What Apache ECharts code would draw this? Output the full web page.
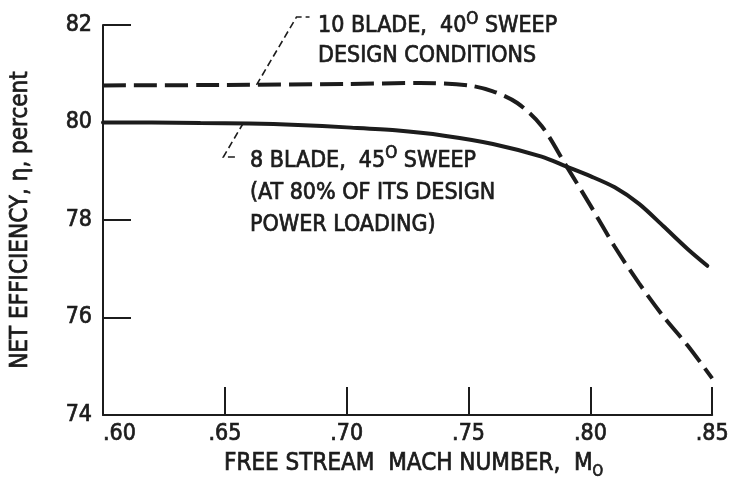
<!DOCTYPE html>
<html><head><meta charset="utf-8">
<script src="https://cdn.jsdelivr.net/npm/echarts@6/dist/echarts.min.js"></script>
<style>html,body{margin:0;padding:0;background:#fff}#c{width:732px;height:485px}</style>
</head><body><div id="c"></div>
<script>
// ---- data ----
const machTicks = [0.60, 0.65, 0.70, 0.75, 0.80, 0.85];
const machTickLabels = ['.60', '.65', '.70', '.75', '.80', '.85'];
const effTicks = [74, 76, 78, 80, 82];
const effTickLabels = ['74', '76', '78', '80', '82'];

const bladeTenMach = [0.60, 0.65, 0.70, 0.73, 0.75, 0.76, 0.77, 0.78, 0.79, 0.80, 0.81, 0.82, 0.83, 0.84, 0.85];
const bladeTenEff  = [80.76, 80.77, 80.79, 80.81, 80.76, 80.64, 80.40, 79.93, 79.12, 78.30, 77.45, 76.70, 76.02, 75.42, 74.75];

const bladeEightMach = [0.60, 0.62, 0.64, 0.66, 0.68, 0.70, 0.72, 0.74, 0.76, 0.78, 0.79, 0.80, 0.81, 0.82, 0.83, 0.84, 0.848];
const bladeEightEff  = [80.00, 80.00, 79.99, 79.98, 79.95, 79.90, 79.84, 79.73, 79.56, 79.30, 79.10, 78.90, 78.67, 78.33, 77.87, 77.40, 77.06];

const xTitle = 'FREE STREAM  MACH NUMBER,  M{sub|O}';
const yTitle = 'NET EFFICIENCY, \u03B7, percent';
const noteTen = '10 BLADE,  40{sup|O} SWEEP\nDESIGN CONDITIONS';
const noteEight = '8 BLADE,  45{sup|O} SWEEP\n(AT 80% OF ITS DESIGN\nPOWER LOADING)';

// ---- font pick ----
function hasFont(n) {
  const c = document.createElement('canvas').getContext('2d');
  const s = 'WBLADE mmm 0123 iiil';
  c.font = '40px monospace'; const a = c.measureText(s).width;
  c.font = '40px "' + n + '", monospace'; const b = c.measureText(s).width;
  return Math.abs(a - b) > 0.5;
}
let F, S;
if (hasFont('Liberation Sans Narrow')) { F = '"Liberation Sans Narrow"'; S = {ann: 25, tick: 25, title: 26, yt: 26}; }
else if (hasFont('DejaVu Sans Condensed')) { F = '"DejaVu Sans Condensed"'; S = {ann: 23, tick: 23, title: 24, yt: 24}; }
else { F = 'Roboto'; S = {ann: 22, tick: 22, title: 23, yt: 23}; }

const INK = '#1c1c1c';
const BW = 0.7; // slight stroke to mimic the heavy scanned type
const chart = echarts.init(document.getElementById('c'), null, {renderer: 'canvas'});

function lbl(arr, labels, v) {
  const i = arr.findIndex(t => Math.abs(t - v) < 1e-6);
  return i >= 0 ? labels[i] : '';
}

chart.setOption({
  animation: false,
  backgroundColor: '#fff',
  grid: {left: 103, right: 17, top: 25, bottom: 70},
  xAxis: {
    type: 'value', min: 0.6, max: 0.85, interval: 0.05,
    axisLine: {show: true, lineStyle: {color: INK, width: 2}},
    axisTick: {show: true, inside: true, length: 28, lineStyle: {color: INK, width: 2}},
    splitLine: {show: false},
    axisLabel: {formatter: v => lbl(machTicks, machTickLabels, v), color: INK, fontFamily: F, fontSize: S.tick, margin: 8,
      textBorderColor: INK, textBorderWidth: BW, showMinLabel: true, showMaxLabel: true, alignMinLabel: 'left'},
    name: xTitle, nameLocation: 'middle', nameGap: 35,
    nameTextStyle: {color: INK, fontFamily: F, fontSize: S.title, lineHeight: 26, textBorderColor: INK, textBorderWidth: BW,
      padding: [0, 0, 0, 12],
      rich: {sub: {color: INK, fontFamily: F, fontSize: 15, lineHeight: 15, padding: [13, 0, 0, 0], verticalAlign: 'top',
        textBorderColor: INK, textBorderWidth: BW}}}
  },
  yAxis: {
    type: 'value', min: 74, max: 82, interval: 2,
    axisLine: {show: true, lineStyle: {color: INK, width: 2}},
    axisTick: {show: true, inside: true, length: 28, lineStyle: {color: INK, width: 2}},
    splitLine: {show: false},
    axisLabel: {formatter: v => lbl(effTicks, effTickLabels, v), color: INK, fontFamily: F, fontSize: S.tick, margin: 11,
      textBorderColor: INK, textBorderWidth: BW, showMinLabel: true, showMaxLabel: true},
    name: yTitle, nameLocation: 'middle', nameRotate: 90, nameGap: 70,
    nameTextStyle: {color: INK, fontFamily: F, fontSize: S.yt, textBorderColor: INK, textBorderWidth: BW, padding: [0, 0, 0, 0]}
  },
  series: [
    {
      type: 'line', name: '10 blade', showSymbol: false, smooth: 0.3,
      data: bladeTenMach.map((m, i) => [m, bladeTenEff[i]]),
      lineStyle: {color: INK, width: 4, type: [23, 8], cap: 'butt'}
    },
    {
      type: 'line', name: '8 blade', showSymbol: false, smooth: 0.3,
      data: bladeEightMach.map((m, i) => [m, bladeEightEff[i]]),
      lineStyle: {color: INK, width: 4, cap: 'round'}
    }
  ]
});

const pTen = chart.convertToPixel({gridIndex: 0}, [0.663, 80.77]);
const pEight = chart.convertToPixel({gridIndex: 0}, [0.6576, 79.99]);
const leaderStyle = {stroke: INK, lineWidth: 1.6, lineDash: [7, 4], fill: null};
const supStyle = {fill: INK, fontFamily: F, fontSize: 17, lineHeight: 20, verticalAlign: 'top', stroke: INK, lineWidth: BW};

chart.setOption({
  graphic: [
    {type: 'polyline', silent: true, shape: {points: [pTen, [pTen[0] + 40, pTen[1] - 68], [pTen[0] + 53, pTen[1] - 68]]}, style: leaderStyle},
    {type: 'polyline', silent: true, shape: {points: [pEight, [pEight[0] - 20, pEight[1] + 34], [pEight[0] - 7, pEight[1] + 34]]}, style: leaderStyle},
    {type: 'text', silent: true, x: 318, y: 11,
      style: {text: noteTen, fill: INK, stroke: INK, lineWidth: BW, fontFamily: F, fontSize: S.ann, lineHeight: 30, verticalAlign: 'top', align: 'left', rich: {sup: supStyle}}},
    {type: 'text', silent: true, x: 250, y: 145,
      style: {text: noteEight, fill: INK, stroke: INK, lineWidth: BW, fontFamily: F, fontSize: S.ann, lineHeight: 32, verticalAlign: 'top', align: 'left', rich: {sup: supStyle}}}
  ]
});
</script>
</body></html>
